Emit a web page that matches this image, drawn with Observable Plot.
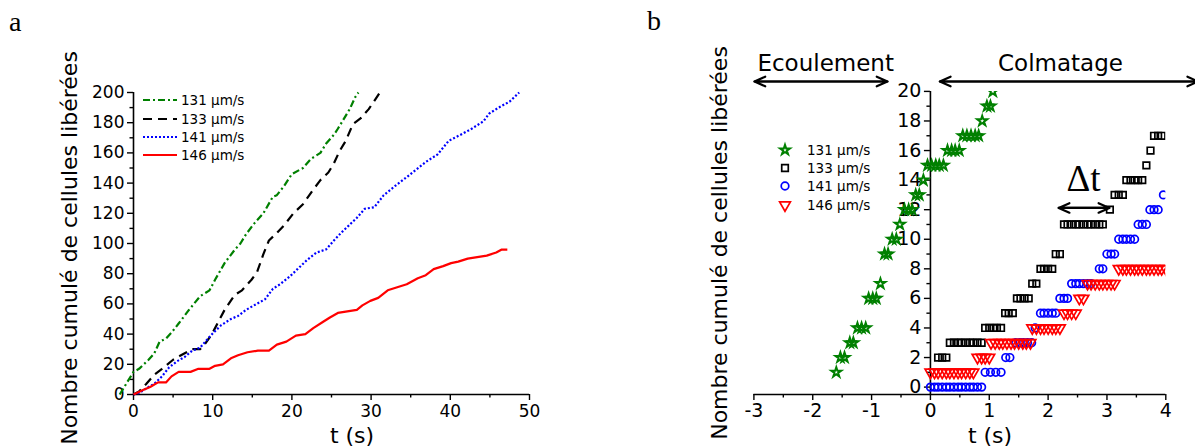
<!DOCTYPE html>
<html><head><meta charset="utf-8">
<script src="https://cdn.jsdelivr.net/npm/d3@7"></script>
<script src="https://cdn.jsdelivr.net/npm/@observablehq/plot@0.6"></script>
<style>
body{margin:0;background:#fff;}
#wrap{position:relative;width:1195px;height:448px;overflow:hidden;background:#fff;}
</style></head>
<body><div id="wrap"></div>
<script>
// ---------- shared ----------
const speeds = ["131 µm/s", "133 µm/s", "141 µm/s", "146 µm/s"];
const colors = ["#008000", "#000000", "#0000ff", "#ff0000"];
const yLabel = "Nombre cumulé de cellules libérées";
const xLabel = "t (s)";

// ---------- panel a : cumulative counts vs time (t, n) ----------
const a131 = [[-1.74,0],[0,15],[0.7,17],[1.9,23],[2.6,27],[3.3,35],[4.1,37],[4.8,41],[5.7,47],[7,56],[8.4,65],[9.6,69],[10.3,76],[11.5,87],[12.8,96],[13.5,100],[14.2,106],[15.2,113],[16.4,120],[17.6,131],[18.1,132],[19,138],[20,146],[21.4,150],[22.4,156],[23.6,160],[24.3,166],[25.3,172],[25.8,176],[26.5,182],[27.3,189],[28,197],[28.4,200]];
const a133 = [[0,0],[0.7,2],[1.6,7],[2.6,13],[3.6,17],[5,23],[6,26],[7.4,30],[8.4,30],[9.1,34],[9.9,40],[10.6,47],[11.5,56],[12.8,66],[13.7,69],[14.9,76],[15.6,81],[16.4,93],[17.1,102],[18.1,107],[19,112],[20.2,120],[21.4,126],[22.6,135],[23.6,142],[24.6,147],[25.3,153],[26,161],[26.8,168],[27.7,179],[28.7,183],[29.7,189],[30.6,196],[31.1,200]];
const a141 = [[0,0],[0.7,1],[1.6,4],[2.6,7],[3.6,12],[4.5,18],[5.5,22],[6.5,25],[7.4,29],[8.4,31],[9.4,37],[10.1,41],[11.1,46],[12.3,50],[13.2,52],[14.2,56],[15.2,59],[16.6,63],[17.6,70],[18.5,73],[19.7,78],[20.7,83],[21.9,89],[23.1,94],[24.3,96],[25.3,102],[26.2,107],[27.2,112],[28.2,117],[29.2,123],[30.4,124],[31.6,132],[33,138],[34.5,144],[35.7,149],[36.9,154],[38.4,159],[39.8,168],[41.3,172],[42.7,176],[44.2,181],[44.9,186],[46.1,190],[47.5,194],[48.7,200]];
const a146 = [[0,0],[1.2,3],[2.1,5],[3.1,8],[4.1,8],[4.8,12],[5.7,15],[7.2,15],[8.2,17],[9.6,17],[10.3,19],[11.3,20],[12.3,24],[13.2,26],[14.4,28],[15.7,29],[17.1,29],[18.1,33],[19.3,35],[20.5,39],[21.7,40],[22.7,44],[23.9,48],[24.8,51],[25.8,54],[27,55],[28.2,56],[28.9,59],[29.9,62],[30.9,64],[32.1,69],[33.3,71],[34.5,73],[35.9,77],[36.9,79],[37.9,83],[39.1,85],[40.1,87],[41,88],[42.2,90],[43.4,91],[44.6,92],[45.8,94],[46.5,96],[47.2,96]];
const aTicksX = [0,10,20,30,40,50];
const aMinorX = [5,15,25,35,45];
const aTicksY = [0,20,40,60,80,100,120,140,160,180,200];
const aMinorY = [10,30,50,70,90,110,130,150,170,190];

// ---------- panel b : release events around clogging (t, n) ----------
const b131 = [[-1.6,1],[-1.53,2],[-1.46,2],[-1.37,3],[-1.31,3],[-1.24,4],[-1.17,4],[-1.1,4],[-1.05,6],[-0.98,6],[-0.92,6],[-0.85,7],[-0.78,9],[-0.72,9],[-0.65,10],[-0.58,10],[-0.52,11],[-0.44,12],[-0.37,12],[-0.31,12],[-0.25,13],[-0.19,13],[-0.12,14],[-0.05,15],[0.02,15],[0.09,15],[0.15,15],[0.22,15],[0.29,16],[0.36,16],[0.42,16],[0.49,16],[0.55,17],[0.62,17],[0.69,17],[0.76,17],[0.82,17],[0.88,18],[0.96,19],[1.02,19],[1.06,20]];
const b133 = [[0.13,2],[0.2,2],[0.27,2],[0.33,3],[0.4,3],[0.47,3],[0.53,3],[0.6,3],[0.67,3],[0.73,3],[0.8,3],[0.87,3],[0.93,4],[1.0,4],[1.07,4],[1.13,4],[1.2,4],[1.27,5],[1.33,5],[1.4,5],[1.47,6],[1.53,6],[1.6,6],[1.67,6],[1.73,7],[1.8,7],[1.87,8],[1.93,8],[2.0,8],[2.07,8],[2.13,9],[2.2,9],[2.27,11],[2.33,11],[2.4,11],[2.47,11],[2.53,11],[2.6,11],[2.67,11],[2.73,11],[2.8,11],[2.87,11],[2.93,11],[3.05,12],[3.13,13],[3.2,13],[3.27,13],[3.33,14],[3.4,14],[3.47,14],[3.53,14],[3.6,14],[3.67,15],[3.74,16],[3.8,17],[3.87,17],[3.93,17]];
const b141 = [[0,0],[0.07,0],[0.13,0],[0.2,0],[0.27,0],[0.33,0],[0.4,0],[0.47,0],[0.53,0],[0.6,0],[0.67,0],[0.73,0],[0.8,0],[0.87,0],[0.93,1],[1.02,1],[1.11,1],[1.2,1],[1.28,2],[1.35,2],[1.45,3],[1.52,3],[1.58,3],[1.65,3],[1.72,3],[1.78,4],[1.87,5],[1.93,5],[2.0,5],[2.07,5],[2.13,5],[2.2,6],[2.27,6],[2.33,6],[2.4,7],[2.47,7],[2.53,7],[2.6,7],[2.67,7],[2.73,7],[2.87,8],[2.93,8],[3.0,9],[3.07,9],[3.13,9],[3.2,10],[3.27,10],[3.33,10],[3.4,10],[3.47,10],[3.53,11],[3.6,11],[3.67,11],[3.73,12],[3.8,12],[3.87,12],[3.96,13]];
const b146 = [[0,1],[0.07,1],[0.13,1],[0.2,1],[0.27,1],[0.33,1],[0.4,1],[0.47,1],[0.53,1],[0.6,1],[0.67,1],[0.73,1],[0.8,2],[0.87,2],[0.93,2],[1.0,2],[1.03,3],[1.1,3],[1.17,3],[1.23,3],[1.3,3],[1.37,3],[1.43,3],[1.5,3],[1.57,3],[1.63,3],[1.7,3],[1.73,4],[1.8,4],[1.87,4],[1.93,4],[2.0,4],[2.07,4],[2.13,4],[2.2,4],[2.27,5],[2.33,5],[2.4,5],[2.47,5],[2.53,6],[2.6,6],[2.67,7],[2.73,7],[2.8,7],[2.87,7],[2.93,7],[3.0,7],[3.07,7],[3.13,7],[3.2,8],[3.27,8],[3.33,8],[3.4,8],[3.47,8],[3.53,8],[3.6,8],[3.67,8],[3.73,8],[3.8,8],[3.87,8],[3.93,8],[4.0,8]];
const bTicksX = [-3,-2,-1,0,1,2,3,4];
const bMinorX = [-2.5,-1.5,-0.5,0.5,1.5,2.5,3.5];
const bTicksY = [0,2,4,6,8,10,12,14,16,18,20];
const bMinorY = [1,3,5,7,9,11,13,15,17,19];
const phaseLabels = [{t:-1.78, n:21.9, label:"Ecoulement"}, {t:2.21, n:21.9, label:"Colmatage"}];
const deltaLabel = [{t:2.6, n:14.05, label:"Δt"}];
const doubleArrows = [{t1:-2.99, t2:-0.73, n:20.67}, {t1:0.16, t2:4.55, n:20.67}, {t1:2.18, t2:3.04, n:12.12}];

const FONT = "DejaVu Sans";
const wrap = document.getElementById("wrap");

// ---------- panel a ----------
const aW = 597, aH = 448;
const lineStyles = [
  {dash: "7,3,2,3"}, {dash: "9,6"}, {dash: "2,2"}, {dash: null}
];
const aSeries = [a131, a133, a141, a146];
const plotA = Plot.plot({
  width: aW, height: aH,
  marginLeft: 133, marginRight: 68, marginTop: 92, marginBottom: 54,
  x: {domain: [0, 50], axis: null},
  y: {domain: [0, 200], axis: null},
  style: {position: "absolute", left: "0px", top: "0px", background: "transparent", fontFamily: FONT, color: "black"},
  marks: [
    Plot.axisX(aTicksX, {anchor: "bottom", tickSize: 6, tickPadding: 4, fontSize: 17, strokeWidth: 1.4, label: null}),
    Plot.axisX(aMinorX, {anchor: "bottom", tickSize: 3.5, tickFormat: () => "", strokeWidth: 1.4, label: null}),
    Plot.axisY(aTicksY, {anchor: "left", tickSize: 6, tickPadding: 3, fontSize: 17, strokeWidth: 1.4, label: null}),
    Plot.axisY(aMinorY, {anchor: "left", tickSize: 3.5, tickFormat: () => "", strokeWidth: 1.4, label: null}),
    Plot.ruleY([0], {strokeWidth: 1.6}),
    Plot.ruleX([0], {strokeWidth: 1.6}),
    ...aSeries.map((s, i) => Plot.line(s, {
      x: d => d[0], y: d => d[1], stroke: colors[i], strokeWidth: 2.2,
      strokeDasharray: lineStyles[i].dash, strokeLinecap: "butt", strokeLinejoin: "round"
    }))
  ]
});

// ---------- panel b ----------
const bLeft = 598, bW = 597, bH = 448;
const bML = 155.4, bMR = 29.7;
const bDomX = [-3, 4];
const yAxisShift = (0 - bDomX[0]) / (bDomX[1] - bDomX[0]) * (bW - bML - bMR);
const symbols = [
  {symbol: "star", r: 3.1, rotate: 0, sw: 2},
  {symbol: "square", r: 3.7, rotate: 0, sw: 1.7},
  {symbol: "circle", r: 3.8, rotate: 0, sw: 1.7},
  {symbol: "triangle", r: 4.0, rotate: 180, sw: 1.7}
];
const bSeries = [b131, b133, b141, b146];
const arrowOpts = {headLength: 8, headAngle: 48, strokeWidth: 2.2, stroke: "black", clip: false};
const plotB = Plot.plot({
  width: bW, height: bH,
  marginLeft: bML, marginRight: bMR, marginTop: 90.9, marginBottom: 54,
  x: {domain: bDomX, axis: null},
  y: {domain: [-0.5, 20], axis: null},
  style: {position: "absolute", left: bLeft + "px", top: "0px", background: "transparent", fontFamily: FONT, color: "black", overflow: "visible"},
  marks: [
    Plot.axisX(bTicksX, {anchor: "bottom", tickSize: 6, tickPadding: 3, fontSize: 19, strokeWidth: 1.4, tickFormat: d => String(d), label: null}),
    Plot.axisX(bMinorX, {anchor: "bottom", tickSize: 3.5, tickFormat: () => "", strokeWidth: 1.4, label: null}),
    Plot.axisY(bTicksY, {anchor: "left", dx: yAxisShift, tickSize: 6, tickPadding: 3, fontSize: 19, strokeWidth: 1.4, label: null}),
    Plot.axisY(bMinorY, {anchor: "left", dx: yAxisShift, tickSize: 3.5, tickFormat: () => "", strokeWidth: 1.4, label: null}),
    Plot.ruleY([-0.5], {strokeWidth: 1.6}),
    Plot.ruleX([0], {strokeWidth: 1.6}),
    ...bSeries.map((s, i) => Plot.dot(s, {
      x: d => d[0], y: d => d[1], symbol: symbols[i].symbol, r: symbols[i].r, rotate: symbols[i].rotate,
      stroke: colors[i], strokeWidth: symbols[i].sw, fill: "none", clip: true
    })),
    Plot.arrow(doubleArrows, {x1: "t1", x2: "t2", y1: "n", y2: "n", ...arrowOpts}),
    Plot.arrow(doubleArrows, {x1: "t2", x2: "t1", y1: "n", y2: "n", ...arrowOpts}),
    Plot.text(phaseLabels, {x: "t", y: "n", text: "label", fontSize: 23, fill: "black", clip: false}),
    Plot.text(deltaLabel, {x: "t", y: "n", text: "label", fontSize: 37, fontFamily: "Liberation Serif", fill: "black", clip: false})
  ]
});

// ---------- overlay: panel letters, axis titles, legends ----------
const ov = d3.create("svg").attr("width", 1195).attr("height", 448)
  .style("position", "absolute").style("left", "0px").style("top", "0px")
  .style("font-family", FONT);

ov.append("text").attr("x", 9).attr("y", 31).attr("font-family", "Liberation Serif").attr("font-size", 28).text("a");
ov.append("text").attr("x", 647).attr("y", 30).attr("font-family", "Liberation Serif").attr("font-size", 28).text("b");

ov.append("text").attr("transform", "translate(77,248) rotate(-90)").attr("text-anchor", "middle").attr("font-size", 22).text(yLabel);
ov.append("text").attr("transform", "translate(727,243) rotate(-90)").attr("text-anchor", "middle").attr("font-size", 22).text(yLabel);
ov.append("text").attr("x", 352).attr("y", 443).attr("text-anchor", "middle").attr("font-size", 22).text(xLabel);
ov.append("text").attr("x", 990).attr("y", 443).attr("text-anchor", "middle").attr("font-size", 22).text(xLabel);

// legend a
const legA = {x0: 143, x1: 177, tx: 181, rows: [100, 119, 137, 155]};
speeds.forEach((s, i) => {
  const y = legA.rows[i];
  const ln = ov.append("line").attr("x1", legA.x0).attr("x2", legA.x1).attr("y1", y).attr("y2", y)
    .attr("stroke", colors[i]).attr("stroke-width", 2.2);
  if (lineStyles[i].dash) ln.attr("stroke-dasharray", lineStyles[i].dash);
  ov.append("text").attr("x", legA.tx).attr("y", y).attr("dy", "0.35em").attr("font-size", 13.5).text(s);
});
// legend b
const legB = {sx: 785, tx: 807, rows: [150, 168, 186, 205]};
const d3sym = {star: d3.symbolStar, square: d3.symbolSquare, circle: d3.symbolCircle, triangle: d3.symbolTriangle};
speeds.forEach((s, i) => {
  const y = legB.rows[i];
  const sym = symbols[i];
  ov.append("path").attr("d", d3.symbol(d3sym[sym.symbol], Math.PI * sym.r * sym.r)())
    .attr("transform", `translate(${legB.sx},${y}) rotate(${sym.rotate})`)
    .attr("fill", "none").attr("stroke", colors[i]).attr("stroke-width", sym.sw);
  ov.append("text").attr("x", legB.tx).attr("y", y).attr("dy", "0.35em").attr("font-size", 13.5).text(s);
});

wrap.append(plotA, plotB, ov.node());
</script>
</body></html>
